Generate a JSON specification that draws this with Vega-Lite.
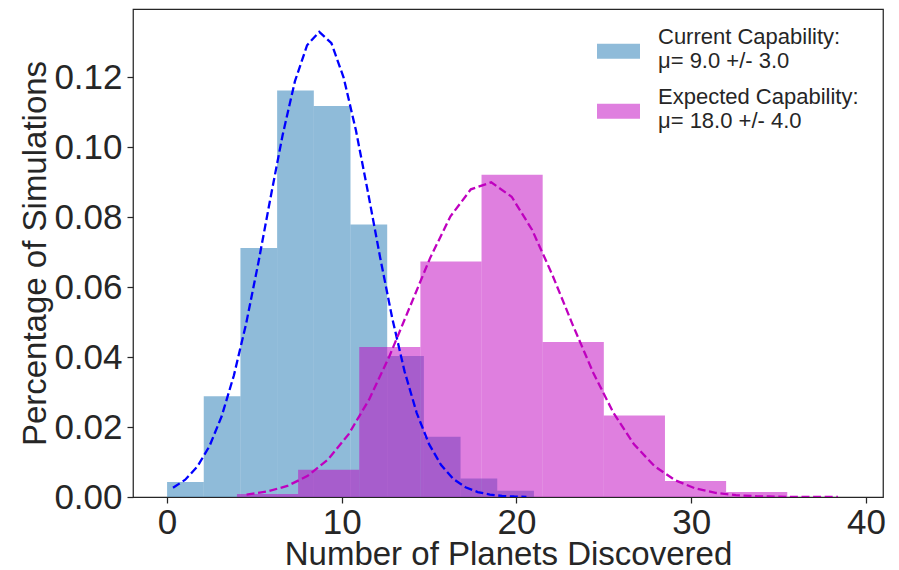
{
  "$schema": "https://vega.github.io/schema/vega-lite/v6.json",
  "width": 750,
  "height": 488,
  "autosize": {"type": "none"},
  "padding": {"left": 133, "top": 9, "right": 16, "bottom": 73},
  "background": "white",
  "datasets": {
    "hist": [
      {"series": "current", "start": 0.0, "end": 2.1, "density": 0.0043},
      {"series": "current", "start": 2.1, "end": 4.2, "density": 0.0288},
      {"series": "current", "start": 4.2, "end": 6.3, "density": 0.0712},
      {"series": "current", "start": 6.3, "end": 8.4, "density": 0.1162},
      {"series": "current", "start": 8.4, "end": 10.5, "density": 0.1118},
      {"series": "current", "start": 10.5, "end": 12.6, "density": 0.0779},
      {"series": "current", "start": 12.6, "end": 14.7, "density": 0.0403},
      {"series": "current", "start": 14.7, "end": 16.8, "density": 0.0172},
      {"series": "current", "start": 16.8, "end": 18.9, "density": 0.0053},
      {"series": "current", "start": 18.9, "end": 21.0, "density": 0.0018},
      {"series": "expected", "start": 4.0, "end": 7.5, "density": 0.00085},
      {"series": "expected", "start": 7.5, "end": 11.0, "density": 0.0078},
      {"series": "expected", "start": 11.0, "end": 14.5, "density": 0.0429},
      {"series": "expected", "start": 14.5, "end": 18.0, "density": 0.0673},
      {"series": "expected", "start": 18.0, "end": 21.5, "density": 0.0921},
      {"series": "expected", "start": 21.5, "end": 25.0, "density": 0.0443},
      {"series": "expected", "start": 25.0, "end": 28.5, "density": 0.0233},
      {"series": "expected", "start": 28.5, "end": 32.0, "density": 0.0046},
      {"series": "expected", "start": 32.0, "end": 35.5, "density": 0.0014}
    ],
    "fit": [
      {"series": "current", "x": 0.34, "y": 0.00264},
      {"series": "current", "x": 1.04, "y": 0.00494},
      {"series": "current", "x": 1.735, "y": 0.00871},
      {"series": "current", "x": 2.433, "y": 0.01459},
      {"series": "current", "x": 3.13, "y": 0.02315},
      {"series": "current", "x": 3.828, "y": 0.03481},
      {"series": "current", "x": 4.526, "y": 0.04956},
      {"series": "current", "x": 5.223, "y": 0.0669},
      {"series": "current", "x": 5.921, "y": 0.08552},
      {"series": "current", "x": 6.618, "y": 0.10355},
      {"series": "current", "x": 7.316, "y": 0.1188},
      {"series": "current", "x": 8.014, "y": 0.12914},
      {"series": "current", "x": 8.711, "y": 0.13297},
      {"series": "current", "x": 9.409, "y": 0.12971},
      {"series": "current", "x": 10.106, "y": 0.1199},
      {"series": "current", "x": 10.804, "y": 0.10495},
      {"series": "current", "x": 11.502, "y": 0.08705},
      {"series": "current", "x": 12.199, "y": 0.06841},
      {"series": "current", "x": 12.897, "y": 0.05092},
      {"series": "current", "x": 13.594, "y": 0.03592},
      {"series": "current", "x": 14.292, "y": 0.02398},
      {"series": "current", "x": 14.99, "y": 0.01518},
      {"series": "current", "x": 15.687, "y": 0.00911},
      {"series": "current", "x": 16.385, "y": 0.00517},
      {"series": "current", "x": 17.082, "y": 0.00278},
      {"series": "current", "x": 17.78, "y": 0.00142},
      {"series": "current", "x": 18.478, "y": 0.00069},
      {"series": "current", "x": 19.175, "y": 0.00031},
      {"series": "current", "x": 19.873, "y": 0.00014},
      {"series": "current", "x": 20.57, "y": 0.00006},
      {"series": "expected", "x": 4.55, "y": 0.0007},
      {"series": "expected", "x": 5.717, "y": 0.00155},
      {"series": "expected", "x": 6.884, "y": 0.00316},
      {"series": "expected", "x": 8.052, "y": 0.00604},
      {"series": "expected", "x": 9.219, "y": 0.01076},
      {"series": "expected", "x": 10.386, "y": 0.01789},
      {"series": "expected", "x": 11.553, "y": 0.02776},
      {"series": "expected", "x": 12.72, "y": 0.04016},
      {"series": "expected", "x": 13.888, "y": 0.05423},
      {"series": "expected", "x": 15.055, "y": 0.06829},
      {"series": "expected", "x": 16.222, "y": 0.08024},
      {"series": "expected", "x": 17.389, "y": 0.08796},
      {"series": "expected", "x": 18.556, "y": 0.08996},
      {"series": "expected", "x": 19.724, "y": 0.08583},
      {"series": "expected", "x": 20.891, "y": 0.0764},
      {"series": "expected", "x": 22.058, "y": 0.06345},
      {"series": "expected", "x": 23.225, "y": 0.04915},
      {"series": "expected", "x": 24.392, "y": 0.03553},
      {"series": "expected", "x": 25.56, "y": 0.02396},
      {"series": "expected", "x": 26.727, "y": 0.01507},
      {"series": "expected", "x": 27.894, "y": 0.00884},
      {"series": "expected", "x": 29.061, "y": 0.00484},
      {"series": "expected", "x": 30.228, "y": 0.00247},
      {"series": "expected", "x": 31.396, "y": 0.00118},
      {"series": "expected", "x": 32.563, "y": 0.00052},
      {"series": "expected", "x": 33.73, "y": 0.00022},
      {"series": "expected", "x": 34.897, "y": 0.00008},
      {"series": "expected", "x": 36.064, "y": 0.00003},
      {"series": "expected", "x": 37.232, "y": 0.00001},
      {"series": "expected", "x": 38.4, "y": 0.0}
    ]
  },
  "layer": [
    {
      "data": {"name": "hist"},
      "mark": {"type": "rect", "opacity": 0.5, "strokeWidth": 0},
      "encoding": {
        "x": {
          "field": "start",
          "type": "quantitative",
          "scale": {"domain": [-1.95, 40.98], "nice": false, "zero": false},
          "axis": {
            "values": [0, 10, 20, 30, 40],
            "format": "d",
            "title": "Number of Planets Discovered",
            "labelPadding": 2,
            "titlePadding": -2
          }
        },
        "x2": {"field": "end"},
        "y": {
          "field": "density",
          "type": "quantitative",
          "scale": {"domain": [0, 0.1395], "nice": false},
          "axis": {
            "values": [0, 0.02, 0.04, 0.06, 0.08, 0.1, 0.12],
            "format": ".2f",
            "title": "Percentage of Simulations",
            "labelPadding": 5,
            "titlePadding": 1
          }
        },
        "y2": {"datum": 0},
        "color": {
          "field": "series",
          "type": "nominal",
          "scale": {"domain": ["current", "expected"], "range": ["#1f77b4", "#bf00bf"]},
          "legend": {
            "title": null,
            "orient": "none",
            "legendX": 464,
            "legendY": 6,
            "padding": 0,
            "symbolType": "M-1,0.34H1V1.04H-1Z",
            "symbolSize": 1849,
            "symbolOpacity": 0.5,
            "symbolStrokeWidth": 0,
            "labelFont": "Liberation Sans",
            "labelFontSize": 22,
            "labelColor": "#262626",
            "labelOffset": 18,
            "labelLimit": 400,
            "rowPadding": 3,
            "labelExpr": "datum.value == 'current' ? ['Current Capability:', 'μ= 9.0 +/- 3.0'] : ['Expected Capability:', 'μ= 18.0 +/- 4.0']"
          }
        }
      }
    },
    {
      "data": {"name": "fit"},
      "mark": {"type": "line", "strokeWidth": 2.3, "strokeDash": [8, 3.6], "clip": true},
      "encoding": {
        "x": {"field": "x", "type": "quantitative"},
        "y": {"field": "y", "type": "quantitative"},
        "detail": {"field": "series"},
        "color": {
          "field": "series",
          "type": "nominal",
          "scale": {"domain": ["current", "expected"], "range": ["#0000ff", "#bf00bf"]},
          "legend": null
        }
      }
    }
  ],
  "resolve": {"scale": {"color": "independent"}},
  "config": {
    "font": "Liberation Sans",
    "view": {"stroke": "#262626", "strokeWidth": 1.25},
    "axis": {
      "domain": false,
      "grid": false,
      "ticks": true,
      "tickSize": 6,
      "tickWidth": 1.25,
      "tickColor": "#262626",
      "labelFont": "Liberation Sans",
      "labelFontSize": 35,
      "labelColor": "#262626",
      "titleFont": "Liberation Sans",
      "titleFontSize": 33,
      "titleFontWeight": "normal",
      "titleColor": "#262626"
    }
  }
}
